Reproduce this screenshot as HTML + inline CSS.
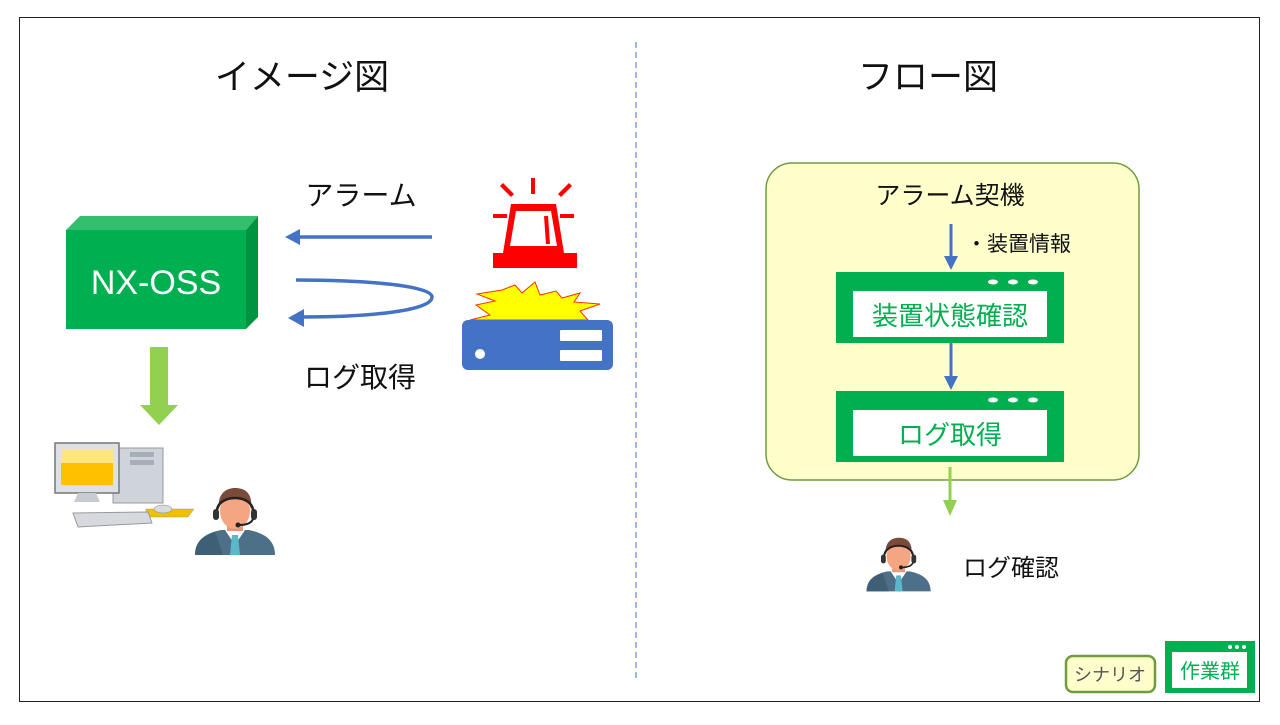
<!DOCTYPE html>
<html><head><meta charset="utf-8"><style>
html,body{margin:0;padding:0;background:#fff;}
body{width:1280px;height:720px;overflow:hidden;font-family:"Liberation Sans","Noto Sans CJK JP",sans-serif;}
</style></head><body>
<svg width="1280" height="720" viewBox="0 0 1280 720" xmlns="http://www.w3.org/2000/svg" font-family="Liberation Sans, Noto Sans CJK JP, sans-serif">
<defs>
<g id="person">
  <path d="M2,68 C2,52 14,46 28,43 L56,43 C70,46 82,52 82,68 Z" fill="#4D7088"/>
  <path d="M2,68 C2,55 10,49 22,45 L30,68 Z" fill="#3E5F75"/>
  <path d="M32,43 L42,58 L52,43 Z" fill="#fff"/>
  <path d="M39,48 L45,48 L47,68 L37,68 Z" fill="#5BB8C9"/>
  <rect x="34" y="34" width="16" height="10" fill="#E8967A"/>
  <ellipse cx="42" cy="24" rx="15" ry="18" fill="#F4A582"/>
  <path d="M26,22 C24,6 34,1 42,1 C52,1 60,6 58,22 C56,13 50,10 42,10 C34,10 28,13 26,22 Z" fill="#7A4A3A"/>
  <path d="M24,26 C22,6 62,6 60,26" fill="none" stroke="#222" stroke-width="2.5"/>
  <rect x="20" y="22" width="6" height="11" rx="3" fill="#333"/>
  <rect x="58" y="22" width="6" height="11" rx="3" fill="#333"/>
  <path d="M60,32 C58,37 52,38 46,38" fill="none" stroke="#222" stroke-width="2"/>
  <circle cx="45" cy="38" r="2.5" fill="#222"/>
</g>
</defs>
<rect x="19.5" y="17.5" width="1240" height="684" fill="#fff" stroke="#222" stroke-width="1"/>
<line x1="636" y1="42" x2="636" y2="678" stroke="#4472C4" stroke-width="1" stroke-dasharray="6,4"/>
<text x="302" y="89" font-size="35" text-anchor="middle" fill="#111">イメージ図</text>
<text x="928" y="89" font-size="35" text-anchor="middle" fill="#111">フロー図</text>

<polygon points="66,230 80,216 258,216 246,230" fill="#33BF6E"/>
<polygon points="246,230 258,216 258,317 246,329" fill="#009441"/>
<rect x="66" y="230" width="180" height="99" fill="#00AF50"/>
<text x="156" y="294" font-size="34" fill="#fff" text-anchor="middle">NX-OSS</text>

<line x1="432" y1="237" x2="298" y2="237" stroke="#4472C4" stroke-width="3.5"/>
<polygon points="285,237 300,229 300,245" fill="#4472C4"/>
<path d="M296,280 C360,280 432,285 432,297 C432,312 360,317 302,317" fill="none" stroke="#4472C4" stroke-width="3.5"/>
<polygon points="288,318 304,309 304,327" fill="#4472C4"/>
<text x="361" y="205" font-size="28" text-anchor="middle" fill="#111">アラーム</text>
<text x="360" y="387" font-size="28" text-anchor="middle" fill="#111">ログ取得</text>

<g fill="#FF0000">
  <rect x="531" y="178" width="4" height="16"/>
  <polygon points="500,186 503,183 514,194 511,197"/>
  <polygon points="569,183 572,186 561,197 558,194"/>
  <rect x="493" y="214" width="14" height="4"/>
  <rect x="560" y="214" width="14" height="4"/>
  <rect x="493" y="253" width="84" height="15"/>
  <path d="M503,253 L511,204 L556,204 L564,253 Z M510,246 L557,246 L551,211 L516,211 Z" fill-rule="evenodd"/>
  <rect x="545" y="216" width="4" height="28" transform="rotate(-4 547 230)"/>
</g>
<polygon points="477,294 502,290 515,285 522,293 535,282 540,295 556,291 562,298 580,293 574,302 600,304 580,311 588,320 470,320 490,315 476,305 495,301" fill="#FFFF00" stroke="#FF3300" stroke-width="1"/>
<rect x="462" y="320" width="151" height="50" rx="6" fill="#4472C4"/>
<circle cx="480" cy="354" r="5" fill="#fff"/>
<rect x="560" y="330" width="42" height="11" rx="1" fill="#fff"/>
<rect x="560" y="350" width="42" height="11" rx="1" fill="#fff"/>

<rect x="150" y="347" width="18" height="60" fill="#92D050"/>
<polygon points="140,405 178,405 159,425" fill="#92D050"/>

<rect x="113" y="448" width="50" height="55" fill="#CFD3DA" stroke="#999" stroke-width="1"/>
<rect x="130" y="452" width="24" height="5" fill="#A8AEB8"/>
<rect x="130" y="460" width="24" height="5" fill="#A8AEB8"/>
<rect x="55" y="443" width="64" height="50" fill="#DDE0E4" stroke="#777" stroke-width="1.5"/>
<rect x="61" y="449" width="52" height="36" fill="#FFC000"/>
<rect x="61" y="449" width="52" height="14" fill="#FFE680"/>
<polygon points="78,493 96,493 100,502 74,502" fill="#C8CCD2"/>
<polygon points="146,509 194,509 188,517 146,517" fill="#F0C000" stroke="#999" stroke-width="0.5"/>
<ellipse cx="163" cy="509" rx="9" ry="4" fill="#D8DADF" stroke="#888" stroke-width="0.5"/>
<polygon points="73,513 148,512 152,523 78,527" fill="#D6D9DE" stroke="#999" stroke-width="1"/>

<use href="#person" x="193" y="487"/>

<rect x="766" y="163" width="373" height="317" rx="26" fill="#FFFFCC" stroke="#6E9C3E" stroke-width="1.5"/>
<text x="950" y="204" font-size="25" text-anchor="middle" fill="#111">アラーム契機</text>
<line x1="951" y1="224" x2="951" y2="258" stroke="#4472C4" stroke-width="3"/>
<polygon points="944,256 958,256 951,270" fill="#4472C4"/>
<text x="966" y="251" font-size="21" fill="#111">・装置情報</text>

<rect x="836" y="272" width="228" height="71" fill="#00AF50"/>
<rect x="853" y="291" width="194" height="46" fill="#fff"/>
<ellipse cx="993" cy="282" rx="5" ry="2.5" fill="#fff"/><ellipse cx="1013" cy="282" rx="5" ry="2.5" fill="#fff"/><ellipse cx="1033" cy="282" rx="5" ry="2.5" fill="#fff"/>
<text x="950" y="325" font-size="26" text-anchor="middle" fill="#00AF50">装置状態確認</text>

<line x1="951" y1="343" x2="951" y2="378" stroke="#4472C4" stroke-width="3"/>
<polygon points="944,376 958,376 951,390" fill="#4472C4"/>

<rect x="836" y="391" width="228" height="71" fill="#00AF50"/>
<rect x="853" y="410" width="194" height="46" fill="#fff"/>
<ellipse cx="993" cy="400" rx="5" ry="2.5" fill="#fff"/><ellipse cx="1013" cy="400" rx="5" ry="2.5" fill="#fff"/><ellipse cx="1033" cy="400" rx="5" ry="2.5" fill="#fff"/>
<text x="950" y="444" font-size="26" text-anchor="middle" fill="#00AF50">ログ取得</text>

<line x1="950" y1="467" x2="950" y2="502" stroke="#92D050" stroke-width="3"/>
<polygon points="943,500 957,500 950,516" fill="#92D050"/>

<use href="#person" x="0" y="0" transform="translate(865,537) scale(0.8)"/>
<text x="963" y="576" font-size="24" fill="#111">ログ確認</text>

<rect x="1066" y="656" width="89" height="36" rx="7" fill="#FFFFCC" stroke="#6E9C3E" stroke-width="2.5"/>
<text x="1110" y="681" font-size="18" text-anchor="middle" fill="#555">シナリオ</text>
<rect x="1165" y="641" width="90" height="52" fill="#00AF50"/>
<rect x="1172" y="652" width="75" height="36" fill="#fff"/>
<circle cx="1230" cy="647" r="2" fill="#fff"/><circle cx="1237" cy="647" r="2" fill="#fff"/><circle cx="1244" cy="647" r="2" fill="#fff"/>
<text x="1210" y="678" font-size="20" text-anchor="middle" fill="#00AF50">作業群</text>
</svg>
</body></html>
